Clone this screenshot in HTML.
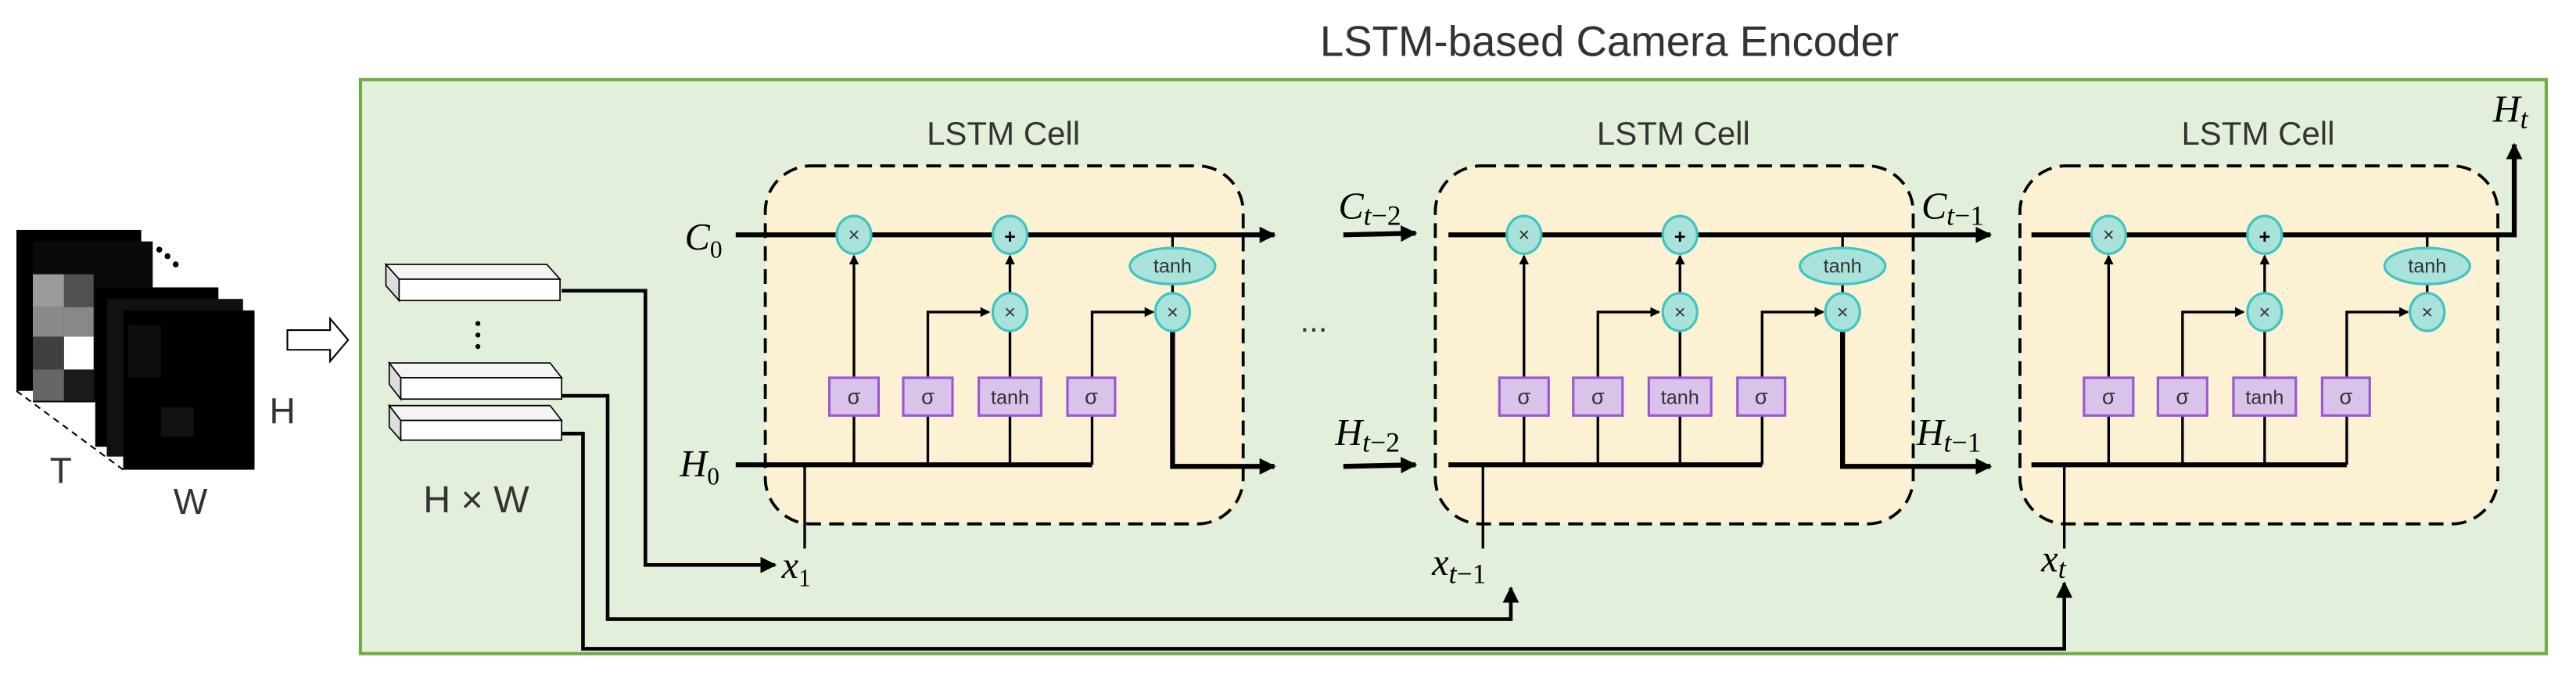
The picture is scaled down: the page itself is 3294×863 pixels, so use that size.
<!DOCTYPE html>
<html><head><meta charset="utf-8"><style>
html,body{margin:0;padding:0;background:#fff;}
svg{display:block;}
.t{font-family:"Liberation Sans",sans-serif;fill:#333;}
.m{font-family:"Liberation Serif",serif;font-style:italic;fill:#000;}
</style></head><body>
<svg width="3294" height="863" viewBox="0 0 1568.6 411" preserveAspectRatio="none" xmlns="http://www.w3.org/2000/svg">
<defs>
<marker id="a" markerWidth="6" markerHeight="6" refX="5" refY="3" orient="auto" markerUnits="userSpaceOnUse" viewBox="0 0 6 6">
<path d="M0,0 L6,3 L0,6 z" fill="#000"/></marker>
<marker id="b" markerWidth="10" markerHeight="10" refX="9" refY="5" orient="auto" markerUnits="userSpaceOnUse" viewBox="0 0 10 10">
<path d="M0,0 L10,5 L0,10 z" fill="#000"/></marker>
</defs>
<rect width="1568.6" height="411" fill="#fff"/>
<text x="980" y="34" text-anchor="middle" class="t" font-size="26">LSTM-based Camera Encoder</text>
<rect x="219.5" y="48.5" width="1331" height="349.5" fill="#e2efda" stroke="#70ad47" stroke-width="2"/>

<!-- image stack -->
<rect x="10" y="140" width="76" height="98" fill="#000"/>
<rect x="20" y="147" width="73" height="98" fill="#0a0a0a"/>
<rect x="20" y="167" width="18" height="20" fill="#555"/>
<rect x="20" y="167" width="19" height="20" fill="#9a9a9a"/>
<rect x="39" y="167" width="18" height="20" fill="#505050"/>
<rect x="20" y="187" width="19" height="18" fill="#8a8a8a"/>
<rect x="39" y="187" width="18" height="18" fill="#888"/>
<rect x="20" y="205" width="19" height="20" fill="#404040"/>
<rect x="39" y="205" width="18" height="20" fill="#fff"/>
<rect x="20" y="225" width="19" height="19" fill="#666"/>
<rect x="39" y="225" width="18" height="19" fill="#1a1a1a"/>
<rect x="58" y="175" width="75" height="97" fill="#000"/>
<rect x="65" y="182" width="83" height="96" fill="#111"/>
<rect x="75" y="189" width="80" height="97" fill="#000"/>
<rect x="78" y="198" width="20" height="32" fill="#0e0e0e"/>
<rect x="98" y="248" width="20" height="18" fill="#121212"/>
<line x1="10" y1="238" x2="75" y2="286" stroke="#000" stroke-width="1" stroke-dasharray="4,3"/>
<circle cx="97" cy="152" r="1.8" fill="#000"/><circle cx="102" cy="156" r="1.8" fill="#000"/><circle cx="107" cy="161" r="1.8" fill="#000"/>
<text x="37" y="294" text-anchor="middle" class="t" font-size="22" fill="#000">T</text>
<text x="116" y="313" text-anchor="middle" class="t" font-size="22">W</text>
<text x="172" y="258" text-anchor="middle" class="t" font-size="22">H</text>
<path d="M175,201 L201,201 L201,194 L212,207 L201,220 L201,213 L175,213 z" fill="#fff" stroke="#000" stroke-width="1"/>

<!-- vectors -->
<g stroke="#000" stroke-width="0.8" fill="#fff">
<path d="M235,161 L333,161 L341,170 L243,170 z" fill="#f4f4f4"/><rect x="243" y="170" width="98" height="13"/><path d="M235,161 L243,170 L243,183 L235,174 z" fill="#ddd"/>
<path d="M237,221 L335,221 L342,230 L244,230 z" fill="#f4f4f4"/><rect x="244" y="230" width="98" height="13"/><path d="M237,221 L244,230 L244,243 L237,234 z" fill="#ddd"/>
<path d="M237,247 L335,247 L342,256 L244,256 z" fill="#f4f4f4"/><rect x="244" y="256" width="98" height="12"/><path d="M237,247 L244,256 L244,268 L237,260 z" fill="#ddd"/>
</g>
<circle cx="291" cy="197" r="1.5" fill="#000"/><circle cx="291" cy="204" r="1.5" fill="#000"/><circle cx="291" cy="211" r="1.5" fill="#000"/>
<text x="290" y="312" text-anchor="middle" class="t" font-size="23">H × W</text>

<!-- wires -->
<g fill="none" stroke="#000" stroke-width="2.2">
<polyline points="342,177 393,177 393,344 472,344" marker-end="url(#b)"/>
<polyline points="342,241 370,241 370,377 920,377 920,358" marker-end="url(#b)"/>
<polyline points="342,264 355,264 355,395 1257,395 1257,355" marker-end="url(#b)"/>
</g>

<!-- CELL template drawn 3 times -->
<g id="c1">
<rect x="466" y="101" width="291" height="218" rx="28" fill="#fcf2d3" stroke="#000" stroke-width="1.8" stroke-dasharray="9,5"/>
<text x="611" y="88" text-anchor="middle" class="t" font-size="20">LSTM Cell</text>
<g fill="none" stroke="#000" stroke-width="3">
<line x1="448" y1="143" x2="776" y2="143" marker-end="url(#b)"/>
<line x1="448" y1="283" x2="665" y2="283"/>
<polyline points="714,190 714,284 776,284" marker-end="url(#b)"/>
</g>
<g fill="none" stroke="#000" stroke-width="1.6">
<line x1="714" y1="143" x2="714" y2="190"/>
<line x1="490" y1="283" x2="490" y2="334"/>
<line x1="520" y1="283" x2="520" y2="156" marker-end="url(#a)"/>
<polyline points="565,283 565,190 602,190" marker-end="url(#a)"/>
<line x1="615" y1="283" x2="615" y2="190"/>
<line x1="615" y1="180" x2="615" y2="156" marker-end="url(#a)"/>
<polyline points="665,283 665,190 702,190" marker-end="url(#a)"/>
</g>
</g>

<g id="boxes1">
<g fill="#d9c3ea" stroke="#9a58d0" stroke-width="1.5">
<rect x="505" y="230" width="30" height="23"/><rect x="550" y="230" width="30" height="23"/><rect x="596" y="230" width="38" height="23"/><rect x="650" y="230" width="29" height="23"/>
</g>
<g class="t" font-size="13" text-anchor="middle">
<text x="520" y="246">σ</text><text x="565" y="246">σ</text><text x="615" y="246" font-size="12">tanh</text><text x="664.5" y="246">σ</text>
</g>
<g fill="#a8e2da" stroke="#40c4c0" stroke-width="1.5">
<ellipse cx="520" cy="143" rx="10.5" ry="11.5"/><ellipse cx="615" cy="143" rx="10.5" ry="11.5"/>
<ellipse cx="615" cy="190" rx="10.5" ry="11.5"/><ellipse cx="714" cy="190" rx="10.5" ry="11.5"/>
<ellipse cx="714" cy="162" rx="26" ry="11"/>
</g>
<g class="t" font-size="12" text-anchor="middle">
<text x="520" y="147">×</text><text x="615" y="148" font-weight="bold" fill="#000">+</text>
<text x="615" y="194">×</text><text x="714" y="194">×</text><text x="714" y="166">tanh</text>
</g>
</g>

<!-- cell 2 -->
<g transform="translate(408,0)">
<rect x="466" y="101" width="291" height="218" rx="28" fill="#fcf2d3" stroke="#000" stroke-width="1.8" stroke-dasharray="9,5"/>
<text x="611" y="88" text-anchor="middle" class="t" font-size="20">LSTM Cell</text>
<g fill="none" stroke="#000" stroke-width="3">
<line x1="474" y1="143" x2="804" y2="143" marker-end="url(#b)"/>
<line x1="474" y1="283" x2="665" y2="283"/>
<polyline points="714,190 714,284 804,284" marker-end="url(#b)"/>
</g>
<g fill="none" stroke="#000" stroke-width="1.6">
<line x1="714" y1="143" x2="714" y2="190"/>
<line x1="495" y1="283" x2="495" y2="334"/>
<line x1="520" y1="283" x2="520" y2="156" marker-end="url(#a)"/>
<polyline points="565,283 565,190 602,190" marker-end="url(#a)"/>
<line x1="615" y1="283" x2="615" y2="190"/>
<line x1="615" y1="180" x2="615" y2="156" marker-end="url(#a)"/>
<polyline points="665,283 665,190 702,190" marker-end="url(#a)"/>
</g>
<g fill="#d9c3ea" stroke="#9a58d0" stroke-width="1.5">
<rect x="505" y="230" width="30" height="23"/><rect x="550" y="230" width="30" height="23"/><rect x="596" y="230" width="38" height="23"/><rect x="650" y="230" width="29" height="23"/>
</g>
<g class="t" font-size="13" text-anchor="middle">
<text x="520" y="246">σ</text><text x="565" y="246">σ</text><text x="615" y="246" font-size="12">tanh</text><text x="664.5" y="246">σ</text>
</g>
<g fill="#a8e2da" stroke="#40c4c0" stroke-width="1.5">
<ellipse cx="520" cy="143" rx="10.5" ry="11.5"/><ellipse cx="615" cy="143" rx="10.5" ry="11.5"/>
<ellipse cx="615" cy="190" rx="10.5" ry="11.5"/><ellipse cx="714" cy="190" rx="10.5" ry="11.5"/>
<ellipse cx="714" cy="162" rx="26" ry="11"/>
</g>
<g class="t" font-size="12" text-anchor="middle">
<text x="520" y="147">×</text><text x="615" y="148" font-weight="bold" fill="#000">+</text>
<text x="615" y="194">×</text><text x="714" y="194">×</text><text x="714" y="166">tanh</text>
</g>
</g>

<!-- cell 3 -->
<g transform="translate(764,0)">
<rect x="466" y="101" width="291" height="218" rx="28" fill="#fcf2d3" stroke="#000" stroke-width="1.8" stroke-dasharray="9,5"/>
<text x="611" y="88" text-anchor="middle" class="t" font-size="20">LSTM Cell</text>
<g fill="none" stroke="#000" stroke-width="3">
<polyline points="473,143 767,143 767,88" marker-end="url(#b)"/>
<line x1="473" y1="283" x2="665" y2="283"/>
</g>
<g fill="none" stroke="#000" stroke-width="1.6">
<line x1="714" y1="143" x2="714" y2="190"/>
<line x1="493" y1="283" x2="493" y2="334"/>
<line x1="520" y1="283" x2="520" y2="156" marker-end="url(#a)"/>
<polyline points="565,283 565,190 602,190" marker-end="url(#a)"/>
<line x1="615" y1="283" x2="615" y2="190"/>
<line x1="615" y1="180" x2="615" y2="156" marker-end="url(#a)"/>
<polyline points="665,283 665,190 702,190" marker-end="url(#a)"/>
</g>
<g fill="#d9c3ea" stroke="#9a58d0" stroke-width="1.5">
<rect x="505" y="230" width="30" height="23"/><rect x="550" y="230" width="30" height="23"/><rect x="596" y="230" width="38" height="23"/><rect x="650" y="230" width="29" height="23"/>
</g>
<g class="t" font-size="13" text-anchor="middle">
<text x="520" y="246">σ</text><text x="565" y="246">σ</text><text x="615" y="246" font-size="12">tanh</text><text x="664.5" y="246">σ</text>
</g>
<g fill="#a8e2da" stroke="#40c4c0" stroke-width="1.5">
<ellipse cx="520" cy="143" rx="10.5" ry="11.5"/><ellipse cx="615" cy="143" rx="10.5" ry="11.5"/>
<ellipse cx="615" cy="190" rx="10.5" ry="11.5"/><ellipse cx="714" cy="190" rx="10.5" ry="11.5"/>
<ellipse cx="714" cy="162" rx="26" ry="11"/>
</g>
<g class="t" font-size="12" text-anchor="middle">
<text x="520" y="147">×</text><text x="615" y="148" font-weight="bold" fill="#000">+</text>
<text x="615" y="194">×</text><text x="714" y="194">×</text><text x="714" y="166">tanh</text>
</g>
</g>

<!-- inputs to cell 2 -->
<g fill="none" stroke="#000" stroke-width="3">
<line x1="818" y1="143" x2="862" y2="142" marker-end="url(#b)"/>
<line x1="818" y1="284" x2="862" y2="283" marker-end="url(#b)"/>
</g>
<text x="800" y="202" class="t" font-size="20" fill="#000" text-anchor="middle">...</text>

<!-- math labels -->
<g class="m" font-size="23">
<text x="417" y="152">C<tspan font-size="15" font-style="normal" dy="5">0</tspan></text>
<text x="414" y="290">H<tspan font-size="15" font-style="normal" dy="5">0</tspan></text>
<text x="476" y="352">x<tspan font-size="15" font-style="normal" dy="5">1</tspan></text>
<text x="815" y="133">C<tspan font-size="17" dy="4">t</tspan><tspan font-size="17" font-style="normal">−2</tspan></text>
<text x="813" y="271">H<tspan font-size="17" dy="4">t</tspan><tspan font-size="17" font-style="normal">−2</tspan></text>
<text x="1170" y="133">C<tspan font-size="17" dy="4">t</tspan><tspan font-size="17" font-style="normal">−1</tspan></text>
<text x="1167" y="271">H<tspan font-size="17" dy="4">t</tspan><tspan font-size="17" font-style="normal">−1</tspan></text>
<text x="872" y="350">x<tspan font-size="17" dy="5">t</tspan><tspan font-size="17" font-style="normal">−1</tspan></text>
<text x="1243" y="348">x<tspan font-size="17" dy="4">t</tspan></text>
<text x="1518" y="74">H<tspan font-size="17" dy="4">t</tspan></text>
</g>
</svg>
</body></html>
